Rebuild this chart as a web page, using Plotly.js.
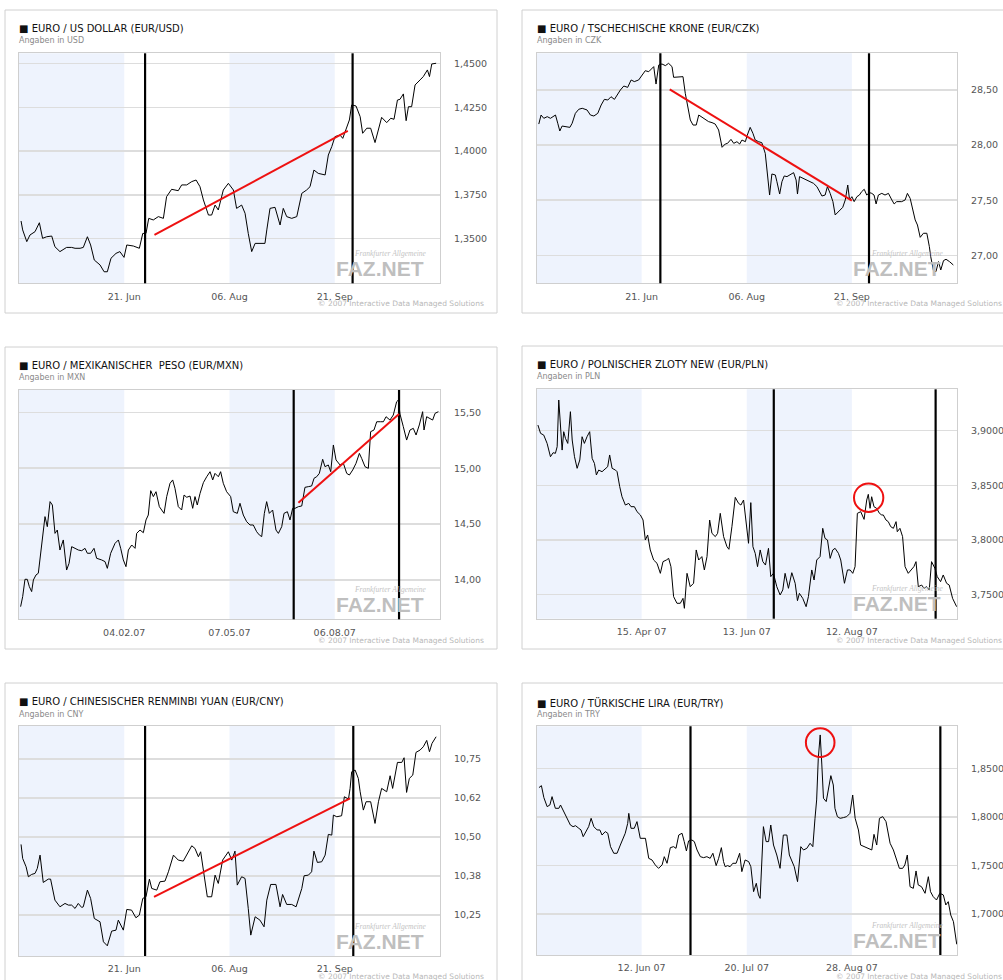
<!DOCTYPE html>
<html><head><meta charset="utf-8">
<script src="https://cdn.plot.ly/plotly-3.0.1.min.js"></script>
<style>html,body{margin:0;padding:0;background:#fff;overflow:hidden}#chart{width:1003px;height:980px}</style>
</head><body><div id="chart"></div>
<script>
// ---------- DATA (days since start of each chart window, rates) ----------
const usdDays=[0.9,1.6,3.4,4.8,7.0,8.9,10.3,12.1,14.3,15.7,17.9,20.8,23.0,24.5,26.7,28.1,29.9,31.3,32.9,35.4,37.2,38.6,40.2,42.4,44.1,45.9,47.1,50.0,52.6,54.1,55.5,56.7,58.7,60.9,63.1,64.5,66.7,69.6,71.1,73.3,75.5,77.4,79.1,80.6,82.8,84.2,85.7,87.1,89.3,91.5,93.7,95.1,97.3,98.8,100.2,101.7,103.2,105.3,107.5,108.3,109.7,111.9,114.1,115.5,117.0,119.2,121.4,123.6,125.7,127.2,128.9,130.8,133.8,135.2,136.7,138.1,140.3,141.5,143.2,144.4,145.4,147.3,149.1,150.2,152.0,153.7,155.6,157.1,158.5,160.7,162.5,163.9,165.4,166.5,168.0,169.2,170.2,171.6,173.1,175.3,176.7,178.5,179.4,180.4,182.3];
const usdRates=[1.3601,1.3550,1.3483,1.3521,1.3540,1.3591,1.3502,1.3511,1.3515,1.3454,1.3426,1.3450,1.3450,1.3445,1.3445,1.3450,1.3511,1.3464,1.3378,1.3350,1.3311,1.3311,1.3388,1.3416,1.3426,1.3393,1.3464,1.3458,1.3445,1.3530,1.3530,1.3616,1.3607,1.3626,1.3616,1.3740,1.3782,1.3774,1.3807,1.3807,1.3826,1.3835,1.3797,1.3721,1.3635,1.3635,1.3692,1.3664,1.3778,1.3816,1.3778,1.3673,1.3692,1.3645,1.3530,1.3426,1.3473,1.3473,1.3473,1.3550,1.3673,1.3679,1.3578,1.3673,1.3626,1.3616,1.3626,1.3759,1.3778,1.3797,1.3892,1.3873,1.3864,1.3978,1.4026,1.4083,1.4092,1.4073,1.4140,1.4178,1.4264,1.4258,1.4197,1.4102,1.4131,1.4131,1.4049,1.4121,1.4193,1.4163,1.4188,1.4182,1.4292,1.4296,1.4327,1.4174,1.4254,1.4254,1.4378,1.4407,1.4426,1.4464,1.4426,1.4498,1.4502];

const czkDays=[1.0,2.0,3.2,4.7,6.1,7.3,8.3,9.3,10.2,11.2,12.7,14.6,15.6,17.0,18.5,20.0,22.1,23.6,25.1,26.8,28.3,29.7,31.2,32.6,34.1,35.3,36.7,38.2,39.9,41.4,42.8,44.7,46.2,47.6,49.1,50.6,51.3,52.3,53.5,54.9,56.4,57.8,59.3,60.0,62.2,64.1,65.1,66.6,67.3,68.5,69.9,71.0,72.4,73.9,75.3,76.8,78.2,79.7,80.4,81.2,82.6,83.6,85.1,86.3,87.7,88.9,89.9,91.4,92.1,93.5,94.7,95.7,97.2,98.6,100.1,101.1,102.0,103.0,104.5,105.2,106.4,107.4,108.4,109.6,111.0,112.5,113.6,114.2,115.1,116.6,118.0,119.8,121.2,122.7,123.8,124.9,126.3,127.3,128.5,129.7,130.7,131.7,132.9,134.0,135.1,136.2,137.0,138.0,139.0,140.2,141.3,142.3,143.4,144.5,145.7,146.7,147.7,148.6,149.6,151.1,152.5,154.0,155.5,156.5,157.6,159.8,161.3,162.3,163.5,164.9,165.7,166.7,167.9,169.3,170.8,171.9,172.5,173.7,174.8,175.9,176.9,178.1,179.2,180.7,181.7,182.4];
const czkRates=[28.191,28.273,28.243,28.258,28.243,28.264,28.273,28.198,28.128,28.173,28.167,28.161,28.198,28.288,28.325,28.334,28.319,28.273,28.264,28.288,28.364,28.415,28.409,28.439,28.415,28.455,28.500,28.536,28.524,28.591,28.576,28.591,28.636,28.675,28.666,28.697,28.712,28.554,28.727,28.736,28.721,28.742,28.712,28.615,28.615,28.621,28.470,28.303,28.228,28.182,28.182,28.273,28.252,28.234,28.213,28.204,28.191,28.137,28.061,27.980,28.010,28.016,28.052,28.016,28.031,28.010,28.046,28.031,28.083,28.161,28.107,28.046,28.031,28.022,27.925,27.744,27.547,27.738,27.729,27.668,27.556,27.668,27.720,27.714,27.729,27.750,27.683,27.556,27.714,27.699,27.683,27.668,27.653,27.623,27.578,27.538,27.547,27.623,27.562,27.487,27.366,27.387,27.417,27.435,27.502,27.638,27.502,27.532,27.487,27.532,27.547,27.578,27.599,27.547,27.569,27.562,27.547,27.466,27.547,27.562,27.547,27.562,27.502,27.466,27.487,27.487,27.502,27.562,27.517,27.381,27.321,27.275,27.163,27.200,27.200,27.079,26.988,26.861,26.852,26.943,26.867,26.952,26.964,26.943,26.927,26.912];

const mxnDays=[1.4,3.2,5.2,7.2,9.0,11.0,12.5,14.8,16.8,18.3,20.6,22.6,24.6,27.0,29.0,31.3,33.3,35.6,38.5,41.4,43.5,45.8,48.7,51.6,54.5,57.4,59.4,62.3,65.2,67.5,71.9,74.8,76.8,79.7,83.5,86.4,88.4,90.7,93.0,95.1,98.0,100.9,102.3,105.2,108.1,110.4,112.4,114.5,116.8,119.1,122.0,124.0,126.1,128.4,131.3,133.6,135.6,138.5,141.4,143.5,145.8,148.7,151.0,153.0,155.0,157.4,160.3,163.2,166.1,168.4,170.4,173.3,175.3,177.6,180.5,184.0,186.3,189.8,192.1,195.0,197.9,200.8,203.7,206.6,208.9,211.0,213.3,215.3,217.6,220.5,223.4,225.5,228.4,230.4,233.3,235.6,237.9,240.0,242.9,245.8,248.6,251.5,254.4,256.5,258.8,261.1,264.0,266.0,268.9,271.0,273.3,275.6,279.1,282.0,284.9,287.2,290.1,293.0,295.9,297.9,300.8,303.7,305.7,308.6,311.0,314.4,316.8,319.1,322.5,325.4,328.3,329.8,331.2,334.1,337.0,339.9,342.8,345.2,348.0,350.9,352.1,354.4,357.3,359.6,361.7,364.6];
const mxnRates=[13.761,13.851,14.006,14.006,13.940,13.896,14.000,14.045,14.060,14.194,14.432,14.567,14.477,14.701,14.671,14.417,14.447,14.268,14.358,14.089,14.149,14.298,14.283,14.268,14.262,14.283,14.239,14.239,14.283,14.194,14.179,14.164,14.104,14.239,14.328,14.358,14.283,14.179,14.119,14.268,14.313,14.283,14.417,14.447,14.423,14.537,14.581,14.799,14.746,14.790,14.656,14.626,14.596,14.746,14.865,14.895,14.820,14.656,14.626,14.760,14.740,14.751,14.641,14.746,14.671,14.775,14.871,14.924,14.969,14.895,14.954,14.924,14.969,14.865,14.790,14.746,14.611,14.596,14.686,14.581,14.522,14.492,14.492,14.432,14.403,14.388,14.596,14.701,14.596,14.626,14.447,14.417,14.477,14.596,14.611,14.537,14.641,14.641,14.656,14.662,14.829,14.835,14.841,14.910,14.924,14.954,15.080,15.014,15.029,14.969,15.208,15.074,15.029,15.044,14.954,14.939,14.984,15.044,15.133,15.088,15.014,14.999,15.327,15.342,15.416,15.416,15.416,15.461,15.431,15.476,15.595,15.610,15.485,15.372,15.252,15.342,15.357,15.297,15.387,15.506,15.342,15.461,15.446,15.431,15.491,15.506];

const plnDays=[0.8,2.3,4.1,6.0,7.9,9.4,10.7,11.7,12.6,13.6,14.5,15.4,16.4,17.7,19.2,20.2,21.5,23.0,24.5,25.8,27.1,28.6,30.1,31.5,32.8,33.9,35.2,37.1,39.0,40.3,41.4,42.8,44.7,45.6,47.1,48.4,50.3,52.2,53.5,55.4,56.9,58.8,60.3,61.6,62.9,64.4,66.3,68.2,70.1,71.6,73.5,74.8,76.1,77.6,79.5,81.4,82.9,83.7,85.2,87.0,88.9,90.4,91.8,93.6,95.0,96.5,98.0,99.3,101.2,102.5,104.0,105.9,107.8,108.9,110.6,112.5,114.4,115.7,117.2,118.7,120.0,121.3,122.5,123.8,125.1,126.6,128.1,129.6,131.3,132.6,134.1,136.0,137.9,139.4,140.7,142.6,144.5,146.4,147.7,148.8,150.7,152.6,153.9,155.8,157.1,158.6,160.5,162.0,163.3,164.7,166.2,167.7,169.0,170.9,172.2,174.3,176.0,177.5,179.0,180.3,181.6,183.5,185.4,186.9,187.8,188.8,189.7,191.0,192.5,194.1,195.4,196.3,197.8,199.1,200.5,202.0,203.5,204.2,205.7,207.2,208.6,210.4,212.3,213.6,214.8,216.1,218.0,219.3,220.8,222.3,223.6,225.5,226.8,228.7,230.2,232.1,233.6,235.5,237.8];
const plnRates=[3.9052,3.8976,3.8960,3.8884,3.8762,3.8799,3.8793,3.8854,3.9281,3.9012,3.8823,3.8991,3.8930,3.8884,3.9174,3.8915,3.8762,3.8656,3.8732,3.8945,3.8884,3.8945,3.8991,3.8747,3.8701,3.8595,3.8640,3.8625,3.8656,3.8671,3.8778,3.8656,3.8640,3.8625,3.8488,3.8396,3.8320,3.8335,3.8305,3.8305,3.8259,3.8229,3.8183,3.8000,3.8046,3.7909,3.7817,3.7787,3.7695,3.7802,3.7817,3.7832,3.7756,3.7482,3.7421,3.7421,3.7466,3.7375,3.7695,3.7573,3.7604,3.7909,3.7817,3.7848,3.7726,3.7848,3.8183,3.8061,3.8031,3.8061,3.8244,3.8031,3.7939,3.7915,3.8122,3.8390,3.8335,3.8320,3.8366,3.8152,3.7970,3.8342,3.7939,3.7878,3.7756,3.7909,3.7802,3.7771,3.7924,3.7665,3.7695,3.7573,3.7497,3.7543,3.7695,3.7558,3.7701,3.7604,3.7445,3.7512,3.7466,3.7390,3.7482,3.7726,3.7634,3.7817,3.7848,3.8107,3.8015,3.8000,3.7832,3.7909,3.7924,3.7878,3.7817,3.7604,3.7726,3.7726,3.7695,3.7756,3.8244,3.8259,3.8189,3.8366,3.8418,3.8290,3.8396,3.8305,3.8290,3.8244,3.8229,3.8229,3.8183,3.8168,3.8122,3.8107,3.8168,3.8076,3.8107,3.8031,3.7756,3.7695,3.7726,3.7756,3.7802,3.7573,3.7588,3.7558,3.7573,3.7543,3.7802,3.7741,3.7665,3.7619,3.7680,3.7604,3.7588,3.7466,3.7390];

const cnyDays=[0.9,1.6,3.1,4.1,5.5,7.0,8.0,9.2,10.6,12.8,13.8,15.7,17.9,20.1,21.6,23.0,24.5,25.9,27.4,28.1,29.9,31.3,32.9,35.4,36.9,38.6,40.5,42.4,43.4,45.6,47.1,49.2,51.1,52.6,54.1,55.5,57.0,58.0,60.2,61.6,63.8,65.3,67.5,69.6,71.8,73.3,75.5,76.9,78.4,79.4,80.6,82.3,84.2,85.7,87.1,89.0,91.5,93.0,94.4,95.4,97.3,98.8,100.2,101.3,103.2,105.3,107.1,108.3,110.0,112.3,114.1,115.2,117.0,119.2,121.1,122.1,123.6,124.6,126.5,127.9,128.9,130.4,132.3,133.8,135.2,136.7,137.4,138.9,141.0,142.2,144.0,144.7,145.4,146.9,148.3,149.1,150.5,151.7,153.7,155.6,157.1,158.5,160.7,162.2,163.3,165.4,167.3,168.3,169.4,170.6,172.1,173.5,175.3,176.7,178.2,179.4,180.5,182.3];
const cnyRates=[10.4765,10.4316,10.4049,10.3729,10.3803,10.3836,10.3996,10.4423,10.3547,10.3654,10.3654,10.2981,10.2767,10.2874,10.2821,10.2821,10.2714,10.2874,10.2746,10.2767,10.3301,10.3034,10.2393,10.2286,10.1645,10.1517,10.1987,10.2019,10.2340,10.2019,10.2682,10.2660,10.2415,10.2500,10.3034,10.3088,10.3654,10.3355,10.3301,10.3568,10.3590,10.3889,10.4423,10.4263,10.4231,10.4423,10.4722,10.4637,10.4370,10.4530,10.3889,10.3088,10.3088,10.3782,10.3515,10.4263,10.4530,10.4263,10.4551,10.3462,10.3729,10.3675,10.2714,10.1859,10.2447,10.2340,10.2126,10.2981,10.3483,10.3483,10.2767,10.3162,10.2842,10.2842,10.2767,10.2981,10.3355,10.3761,10.3782,10.3889,10.4551,10.4188,10.4209,10.4423,10.5086,10.5064,10.5705,10.5652,10.5684,10.6293,10.6218,10.6560,10.7094,10.7148,10.6880,10.6453,10.5865,10.6133,10.6133,10.5438,10.6133,10.6560,10.6453,10.6966,10.6560,10.7393,10.7393,10.7543,10.6432,10.6880,10.6987,10.7714,10.7789,10.7895,10.8098,10.7735,10.8002,10.8216];

const tryDays=[0.9,1.8,2.7,3.9,4.9,5.7,6.9,8.2,8.8,10.0,11.2,12.4,13.4,14.3,15.5,16.3,17.1,18.3,19.1,20.0,21.0,22.2,23.2,24.0,25.2,26.1,27.1,28.3,29.5,30.7,31.9,32.5,33.4,33.8,34.6,35.8,36.8,38.0,39.0,39.9,41.1,42.3,43.5,44.7,46.0,46.8,47.8,49.0,50.2,51.1,52.1,53.3,54.1,54.9,55.7,56.9,57.8,58.8,60.0,61.2,62.4,63.6,64.6,65.8,66.7,67.7,68.5,69.1,70.0,70.9,71.9,73.1,74.4,75.2,76.4,77.7,78.5,79.5,80.5,81.3,81.9,82.5,83.1,84.1,85.0,85.8,86.8,88.0,89.2,90.4,91.7,92.6,93.5,94.4,95.6,96.8,97.8,99.0,100.2,101.2,102.0,102.6,103.2,103.9,104.5,105.1,106.1,106.9,107.8,108.7,109.3,110.2,111.2,112.4,113.6,114.8,115.8,116.7,117.9,118.7,120.3,121.5,122.8,123.6,124.6,125.6,126.8,128.0,129.5,130.7,131.9,132.9,134.1,134.9,135.8,136.8,138.0,139.0,139.8,141.0,142.3,143.5,144.3,145.3,146.5,147.7,149.0,149.9,150.8,151.7,152.7,153.9];
const tryRates=[1.8301,1.8321,1.8198,1.8105,1.8122,1.8208,1.8088,1.8088,1.8122,1.8054,1.7985,1.7916,1.7899,1.7909,1.7882,1.7865,1.7796,1.7865,1.7899,1.7985,1.7899,1.7865,1.7865,1.7813,1.7848,1.7831,1.7693,1.7625,1.7625,1.7710,1.7786,1.7831,1.7933,1.8036,1.7882,1.7882,1.7951,1.7779,1.7779,1.7779,1.7573,1.7556,1.7505,1.7470,1.7505,1.7590,1.7522,1.7683,1.7693,1.7676,1.7813,1.7831,1.7745,1.7649,1.7752,1.7762,1.7745,1.7659,1.7590,1.7580,1.7590,1.7573,1.7625,1.7498,1.7573,1.7683,1.7539,1.7487,1.7498,1.7487,1.7522,1.7522,1.7625,1.7436,1.7556,1.7539,1.7487,1.7230,1.7316,1.7196,1.7161,1.7539,1.7899,1.7745,1.7745,1.7916,1.7710,1.7607,1.7470,1.7813,1.7813,1.7607,1.7539,1.7487,1.7333,1.7693,1.7659,1.7676,1.7728,1.7693,1.7985,1.8174,1.8603,1.8843,1.8534,1.8191,1.8157,1.8294,1.8424,1.8328,1.8088,1.8002,1.7985,1.7992,1.8002,1.8036,1.8225,1.7985,1.7865,1.7710,1.7693,1.7676,1.7659,1.7820,1.7710,1.7985,1.8002,1.7951,1.7728,1.7659,1.7556,1.7470,1.7470,1.7505,1.7607,1.7281,1.7264,1.7443,1.7299,1.7281,1.7213,1.7384,1.7230,1.7178,1.7144,1.7213,1.7196,1.7093,1.7127,1.6990,1.6921,1.6688];

// tick labels
const usdXTicks=["21. Jun","06. Aug","21. Sep"];
const mxnXTicks=["04.02.07","07.05.07","06.08.07"];
const plnXTicks=["15. Apr 07","13. Jun 07","12. Aug 07"];
const tryXTicks=["12. Jun 07","20. Jul 07","28. Aug 07"];
const usdYVals=[1.35,1.375,1.40,1.425,1.45], usdYText=["1,3500","1,3750","1,4000","1,4250","1,4500"];
const czkYVals=[27.0,27.5,28.0,28.5], czkYText=["27,00","27,50","28,00","28,50"];
const mxnYVals=[14.0,14.5,15.0,15.5], mxnYText=["14,00","14,50","15,00","15,50"];
const plnYVals=[3.75,3.80,3.85,3.90], plnYText=["3,7500","3,8000","3,8500","3,9000"];
const cnyYVals=[10.25,10.375,10.5,10.625,10.75], cnyYText=["10,25","10,38","10,50","10,62","10,75"];
const tryYVals=[1.70,1.75,1.80,1.85], tryYText=["1,7000","1,7500","1,8000","1,8500"];

// events (day positions) and annotations
const usdMarkers=[55.1,145.8], usdTrend=[[59.2,1.3521],[143.7,1.4116]];
const czkMarkers=[54.2,145.5], czkTrend=[[58.3,28.506],[138.0,27.496]];
const mxnMarkers=[238.8,330.4], mxnTrend=[[242.9,14.692],[330.4,15.485]];
const plnMarkers=[134.3,225.9], plnCircle=[188.0,3.8387,8.3,0.0131];
const cnyMarkers=[55.1,146.1], cnyTrend=[[59.0,10.3088],[144.7,10.624]];
const tryMarkers=[56.4,147.9], tryCircle=[103.9,1.8764,5.24,0.01476];

// ---------- LAYOUT ----------
const W=1003,H=980;
const px=v=>v/W, py=v=>1-v/H;
const panels=[
 {title:"EURO / US DOLLAR (EUR/USD)",sub:"Angaben in USD",x:usdDays,y:usdRates,q:46,xt:usdXTicks,yv:usdYVals,yt:usdYText,yr:[1.3245,1.4559],m:usdMarkers,trend:usdTrend,
  L:19,R:440,T:53.3,B:283.3,box:[5,10,497,313],ty:28.3,sy:41,cy:304},
 {title:"EURO / TSCHECHISCHE KRONE (EUR/CZK)",sub:"Angaben in CZK",x:czkDays,y:czkRates,q:46,xt:usdXTicks,yv:czkYVals,yt:czkYText,yr:[26.746,28.833],m:czkMarkers,trend:czkTrend,
  L:536.5,R:957,T:53.3,B:283.3,box:[522,10,1012,313],ty:28.3,sy:41,cy:304},
 {title:"EURO / MEXIKANISCHER  PESO (EUR/MXN)",sub:"Angaben in MXN",x:mxnDays,y:mxnRates,q:91.5,xt:mxnXTicks,yv:mxnYVals,yt:mxnYText,yr:[13.648,15.70],m:mxnMarkers,trend:mxnTrend,
  L:19,R:440,T:390,B:619.3,box:[5,347,497,649],ty:365,sy:377.7,cy:640},
 {title:"EURO / POLNISCHER ZLOTY NEW (EUR/PLN)",sub:"Angaben in PLN",x:plnDays,y:plnRates,q:59.5,xt:plnXTicks,yv:plnYVals,yt:plnYText,yr:[3.728,3.9379],m:plnMarkers,circle:plnCircle,
  L:536.5,R:957,T:389.3,B:618.7,box:[522,346,1012,649],ty:364,sy:376.7,cy:640},
 {title:"EURO / CHINESISCHER RENMINBI YUAN (EUR/CNY)",sub:"Angaben in CNY",x:cnyDays,y:cnyRates,q:46,xt:usdXTicks,yv:cnyYVals,yt:cnyYText,yr:[10.119,10.856],m:cnyMarkers,trend:cnyTrend,
  L:19,R:440,T:726,B:956,box:[5,683,497,995],ty:701,sy:714,cy:976},
 {title:"EURO / TÜRKISCHE LIRA (EUR/TRY)",sub:"Angaben in TRY",x:tryDays,y:tryRates,q:38.5,xt:tryXTicks,yv:tryYVals,yt:tryYText,yr:[1.6578,1.8932],m:tryMarkers,circle:tryCircle,
  L:536.5,R:957,T:726.3,B:955,box:[522,683,1012,995],ty:702.7,sy:714,cy:976}
];

const data=[], shapes=[], annotations=[];
const layout={width:W,height:H,margin:{l:0,r:0,t:0,b:0},paper_bgcolor:"#fff",plot_bgcolor:"#fff",showlegend:false,
  font:{family:"DejaVu Sans, Verdana, sans-serif",color:"#555"}};

panels.forEach((p,i)=>{
  const n=i===0?"":String(i+1);
  const xr="x"+n, yr="y"+n;
  data.push({type:"scatter",mode:"lines",x:p.x,y:p.y,xaxis:xr,yaxis:yr,line:{color:"#000",width:1},hoverinfo:"skip"});
  layout["xaxis"+n]={domain:[px(p.L),px(p.R)],anchor:yr,range:[0,4*p.q],tickmode:"array",tickvals:[p.q,2*p.q,3*p.q],ticktext:p.xt,
    showgrid:false,zeroline:false,showline:true,mirror:true,linecolor:"#cfcfcf",linewidth:1,ticks:"outside",ticklen:4,tickcolor:"rgba(0,0,0,0)",
    tickfont:{size:9.5,color:"#555"},fixedrange:true};
  layout["yaxis"+n]={domain:[py(p.B),py(p.T)],anchor:xr,side:"right",range:p.yr,tickmode:"array",tickvals:p.yv,ticktext:p.yt,
    showgrid:true,gridcolor:"#dddddd",gridwidth:1.5,zeroline:false,showline:true,mirror:true,linecolor:"#cfcfcf",linewidth:1,
    ticks:"outside",ticklen:11,tickcolor:"rgba(0,0,0,0)",tickfont:{size:9.5,color:"#555"},fixedrange:true};
  // panel box
  shapes.push({type:"rect",xref:"paper",yref:"paper",x0:px(p.box[0]),x1:px(p.box[2]),y0:py(p.box[3]),y1:py(p.box[1]),line:{color:"#d0d0d0",width:1},fillcolor:"rgba(0,0,0,0)",layer:"below"});
  // shaded bands
  [[0,p.q],[2*p.q,3*p.q]].forEach(b=>shapes.push({type:"rect",xref:xr,yref:yr+" domain",x0:b[0],x1:b[1],y0:0,y1:1,fillcolor:"#eef3fd",line:{width:0},layer:"below"}));
  // vertical markers
  p.m.forEach(d=>shapes.push({type:"line",xref:xr,yref:yr+" domain",x0:d,x1:d,y0:0,y1:1,line:{color:"#000",width:2.2},layer:"above"}));
  if(p.trend) shapes.push({type:"line",xref:xr,yref:yr,x0:p.trend[0][0],y0:p.trend[0][1],x1:p.trend[1][0],y1:p.trend[1][1],line:{color:"#ee1111",width:2},layer:"above"});
  if(p.circle){const c=p.circle;shapes.push({type:"circle",xref:xr,yref:yr,x0:c[0]-c[2],x1:c[0]+c[2],y0:c[1]-c[3],y1:c[1]+c[3],line:{color:"#ee1111",width:2},layer:"above"});}
  // titles
  annotations.push({xref:"paper",yref:"paper",x:px(p.L-2),y:py(p.ty),xanchor:"left",yanchor:"middle",showarrow:false,
    text:"■ "+p.title,font:{size:10,color:"#111",family:"DejaVu Sans, Verdana, sans-serif"}});
  annotations.push({xref:"paper",yref:"paper",x:px(p.L-2),y:py(p.sy),xanchor:"left",yanchor:"middle",showarrow:false,
    text:p.sub,font:{size:8,color:"#8a8a8a"}});
  // watermark
  annotations.push({xref:"paper",yref:"paper",x:px(p.R-14),y:py(p.B-15),xanchor:"right",yanchor:"middle",showarrow:false,
    text:"<b>FAZ.NET</b>",font:{size:21,color:"#bfbfbf",family:"Liberation Sans, Arial, sans-serif"}});
  annotations.push({xref:"paper",yref:"paper",x:px(p.R-88),y:py(p.B-30),xanchor:"left",yanchor:"middle",showarrow:false,
    text:"<i>Frankfurter Allgemeine</i>",font:{size:7.5,color:"#c4c4c4",family:"Liberation Serif, serif"}});
  // copyright
  annotations.push({xref:"paper",yref:"paper",x:px(p.L+297),y:py(p.cy),xanchor:"left",yanchor:"middle",showarrow:false,
    text:"© 2007 Interactive Data Managed Solutions",font:{size:7.5,color:"#b8b8b8"}});
});
layout.shapes=shapes; layout.annotations=annotations;
Plotly.newPlot("chart",data,layout,{staticPlot:true,displayModeBar:false});
</script></body></html>
